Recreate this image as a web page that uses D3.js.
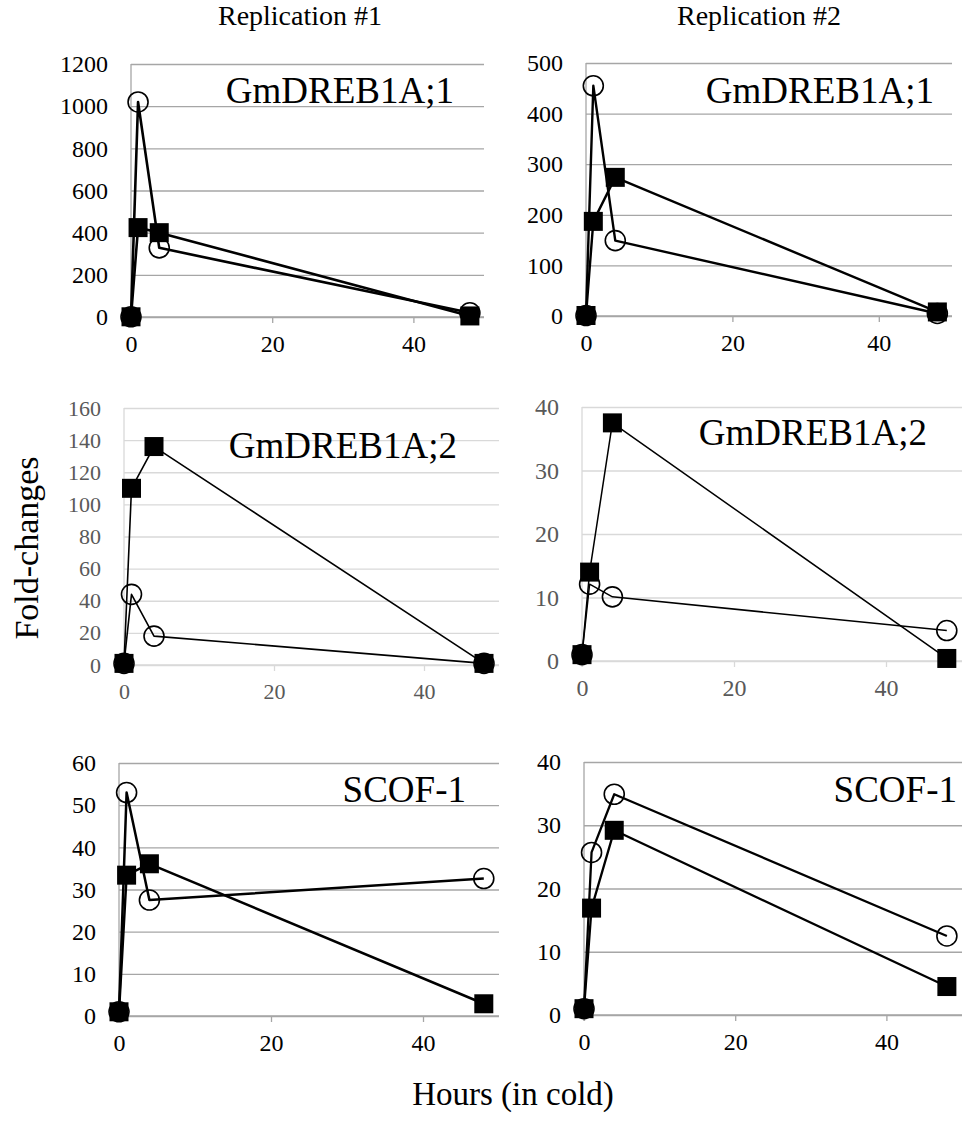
<!DOCTYPE html>
<html>
<head>
<meta charset="utf-8">
<script src="https://cdn.jsdelivr.net/npm/d3@7"></script>
<style>
  html, body { margin: 0; padding: 0; background: #fff; }
  svg { display: block; }
  svg text { font-family: "Liberation Serif", "Times New Roman", serif; }
</style>
</head>
<body>
<svg id="chart" width="963" height="1121"></svg>
<script>
// ── Data ──────────────────────────────────────────────────────────────────────
const hours        = [0, 1, 4, 48];
const replications = ['Replication #1', 'Replication #2'];
const genes        = ['GmDREB1A;1', 'GmDREB1A;1', 'GmDREB1A;2', 'GmDREB1A;2', 'SCOF-1', 'SCOF-1'];
const xTicks       = [0, 20, 40];
const yMaxes       = [1200, 500, 160, 40, 60, 40];
const ySteps       = [200, 100, 20, 10, 10, 10];

// open circles / filled squares, per panel (row-major: rep1, rep2)
const dreb1Rep1Open   = [1, 1020, 328, 20];
const dreb1Rep1Filled = [1, 424, 400, 5];
const dreb1Rep2Open   = [1, 455, 149, 5];
const dreb1Rep2Filled = [1, 187, 274, 8];
const dreb2Rep1Open   = [1, 44, 18, 1];
const dreb2Rep1Filled = [1, 110, 136, 1];
const dreb2Rep2Open   = [1, 12.1, 10.1, 4.8];
const dreb2Rep2Filled = [1, 14, 37.5, 0.4];
const scofRep1Open    = [1, 53, 27.5, 32.6];
const scofRep1Filled  = [1, 33.4, 36.1, 2.9];
const scofRep2Open    = [1, 25.7, 34.9, 12.5];
const scofRep2Filled  = [1, 16.9, 29.2, 4.5];

const openSeries   = [dreb1Rep1Open, dreb1Rep2Open, dreb2Rep1Open, dreb2Rep2Open, scofRep1Open, scofRep2Open];
const filledSeries = [dreb1Rep1Filled, dreb1Rep2Filled, dreb2Rep1Filled, dreb2Rep2Filled, scofRep1Filled, scofRep2Filled];

const SERIF = '"Liberation Serif", "Times New Roman", serif';
const panels = [
  { x0: 131, x1: 484, y0: 64,  y1: 317,  grid: '#a6a6a6', tick: '#000', lw: 2.6, labelX: 454, labelY: 103, fs: 24 },
  { x0: 586, x1: 952, y0: 63,  y1: 316,  grid: '#a6a6a6', tick: '#000', lw: 2.4, labelX: 934, labelY: 103, fs: 24 },
  { x0: 124, x1: 499, y0: 408, y1: 665,  grid: '#d9d9d9', tick: '#595959', lw: 1.6, labelX: 457, labelY: 458, fs: 22 },
  { x0: 582, x1: 962, y0: 407, y1: 661,  grid: '#d9d9d9', tick: '#595959', lw: 1.5, labelX: 927, labelY: 445, fs: 24 },
  { x0: 119, x1: 499, y0: 763, y1: 1016, grid: '#a6a6a6', tick: '#000', lw: 2.5, labelX: 466, labelY: 802, fs: 24 },
  { x0: 584, x1: 962, y0: 762, y1: 1015, grid: '#a6a6a6', tick: '#000', lw: 2.3, labelX: 957, labelY: 802, fs: 24 }
];

const SQUARE = 19;
const CIRCLE_R = 10;

const svg = d3.select('#chart');
svg.append('rect').attr('width', 963).attr('height', 1121).attr('fill', '#fff');

// ── Column titles & axis titles ───────────────────────────────────────────────
svg.selectAll('.rep-title')
  .data(replications)
  .join('text')
  .attr('class', 'rep-title')
  .attr('x', (d, i) => i === 0 ? 300 : 759)
  .attr('y', 25)
  .attr('text-anchor', 'middle')
  .attr('font-size', 28)
  .style('font-family', SERIF)
  .text(d => d);

svg.append('text')
  .attr('transform', 'translate(38,548) rotate(-90)')
  .attr('text-anchor', 'middle')
  .attr('font-size', 34)
  .style('font-family', SERIF)
  .text('Fold-changes');

svg.append('text')
  .attr('x', 513)
  .attr('y', 1105)
  .attr('text-anchor', 'middle')
  .attr('font-size', 33)
  .style('font-family', SERIF)
  .text('Hours (in cold)');

// ── Panels ────────────────────────────────────────────────────────────────────
panels.forEach((p, i) => {
  const x = d3.scaleLinear().domain([0, 50]).range([p.x0, p.x1]);
  const y = d3.scaleLinear().domain([0, yMaxes[i]]).range([p.y1, p.y0]);
  const yTicks = d3.range(0, yMaxes[i] + ySteps[i] / 2, ySteps[i]);

  const g = svg.append('g').attr('class', 'panel');

  // gridlines
  g.append('g')
    .attr('transform', `translate(${p.x0},0)`)
    .call(d3.axisLeft(y).tickValues(yTicks).tickSize(-(p.x1 - p.x0)).tickFormat(''))
    .call(a => a.select('.domain').remove())
    .call(a => a.selectAll('line').attr('stroke', p.grid).attr('stroke-width', 1.3));

  // y labels
  g.append('g')
    .attr('transform', `translate(${p.x0},0)`)
    .call(d3.axisLeft(y).tickValues(yTicks).tickSize(0).tickPadding(23).tickFormat(d3.format('d')))
    .call(a => a.select('.domain').remove())
    .call(a => a.attr('font-family', null))
    .call(a => a.selectAll('text')
      .attr('fill', p.tick)
      .attr('font-size', p.fs)
      .style('font-family', SERIF));

  // y axis line
  g.append('line')
    .attr('x1', p.x0).attr('x2', p.x0)
    .attr('y1', p.y0).attr('y2', p.y1 + 6)
    .attr('stroke', p.grid).attr('stroke-width', 1.3);

  // x axis
  g.append('g')
    .attr('transform', `translate(0,${p.y1})`)
    .call(d3.axisBottom(x).tickValues(xTicks).tickSize(6).tickPadding(12).tickFormat(d3.format('d')))
    .call(a => a.attr('font-family', null))
    .call(a => a.select('.domain').attr('stroke', p.grid).attr('stroke-width', 1.3).attr('d', `M${p.x0},0H${p.x1}`))
    .call(a => a.selectAll('line').attr('stroke', p.grid).attr('stroke-width', 1.3))
    .call(a => a.selectAll('text')
      .attr('fill', p.tick)
      .attr('font-size', p.fs)
      .style('font-family', SERIF));

  const line = d3.line().x((d, k) => x(hours[k])).y(d => y(d));

  // open circle series
  g.append('path')
    .datum(openSeries[i])
    .attr('d', line)
    .attr('fill', 'none')
    .attr('stroke', '#000')
    .attr('stroke-width', p.lw)
    .attr('stroke-linejoin', 'round');

  g.selectAll('.circ')
    .data(openSeries[i])
    .join('circle')
    .attr('class', 'circ')
    .attr('cx', (d, k) => x(hours[k]))
    .attr('cy', d => y(d))
    .attr('r', CIRCLE_R)
    .attr('fill', 'none')
    .attr('stroke', '#000')
    .attr('stroke-width', 1.6);

  // filled square series
  g.append('path')
    .datum(filledSeries[i])
    .attr('d', line)
    .attr('fill', 'none')
    .attr('stroke', '#000')
    .attr('stroke-width', p.lw)
    .attr('stroke-linejoin', 'round');

  g.selectAll('.sq')
    .data(filledSeries[i])
    .join('rect')
    .attr('class', 'sq')
    .attr('x', (d, k) => x(hours[k]) - SQUARE / 2)
    .attr('y', d => y(d) - SQUARE / 2)
    .attr('width', SQUARE)
    .attr('height', SQUARE)
    .attr('fill', '#000');

  // gene label
  g.append('text')
    .attr('x', p.labelX)
    .attr('y', p.labelY)
    .attr('text-anchor', 'end')
    .attr('font-size', 37)
    .style('font-family', SERIF)
    .text(genes[i]);
});
</script>
</body>
</html>
